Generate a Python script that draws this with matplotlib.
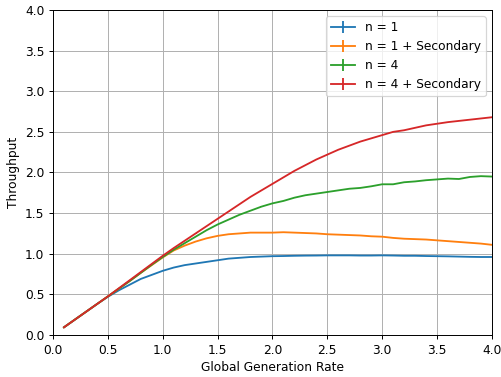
import numpy as np
import matplotlib
matplotlib.use("Agg")
import matplotlib.pyplot as plt

# generation rate sweep
rate = np.round(np.arange(1, 41) * 0.1, 1)

thr_n1 = [0.095, 0.19, 0.285, 0.38, 0.47, 0.55, 0.62, 0.69, 0.74, 0.79,
          0.83, 0.86, 0.88, 0.90, 0.92, 0.94, 0.95, 0.96, 0.965, 0.97,
          0.972, 0.975, 0.977, 0.978, 0.98, 0.98, 0.98, 0.978, 0.978, 0.98,
          0.978, 0.975, 0.975, 0.972, 0.97, 0.968, 0.965, 0.962, 0.96, 0.96]
thr_n1_sec = [0.095, 0.19, 0.285, 0.38, 0.475, 0.57, 0.665, 0.765, 0.86, 0.955,
              1.04, 1.10, 1.15, 1.19, 1.22, 1.24, 1.25, 1.26, 1.26, 1.26,
              1.265, 1.26, 1.255, 1.25, 1.24, 1.235, 1.23, 1.225, 1.215, 1.21,
              1.195, 1.185, 1.18, 1.175, 1.165, 1.155, 1.145, 1.135, 1.125, 1.11]
thr_n4 = [0.095, 0.19, 0.285, 0.38, 0.475, 0.57, 0.665, 0.765, 0.865, 0.96,
          1.05, 1.13, 1.21, 1.29, 1.36, 1.42, 1.48, 1.53, 1.58, 1.62,
          1.65, 1.69, 1.72, 1.74, 1.76, 1.78, 1.80, 1.81, 1.83, 1.855,
          1.855, 1.88, 1.89, 1.905, 1.915, 1.925, 1.92, 1.945, 1.955, 1.95]
thr_n4_sec = [0.095, 0.19, 0.285, 0.38, 0.475, 0.575, 0.675, 0.775, 0.875, 0.975,
              1.07, 1.16, 1.25, 1.34, 1.43, 1.52, 1.61, 1.70, 1.78, 1.86,
              1.94, 2.02, 2.09, 2.16, 2.22, 2.28, 2.33, 2.38, 2.42, 2.46,
              2.50, 2.52, 2.55, 2.58, 2.60, 2.62, 2.635, 2.65, 2.665, 2.68]

labels = ['n = 1', 'n = 1 + Secondary', 'n = 4', 'n = 4 + Secondary']
err = 0.002

DPI = 88
fig = plt.figure(figsize=(501 / DPI, 377 / DPI), dpi=DPI)
ax = fig.add_axes([0.1058, 0.1114, 0.876, 0.8621])

for y, lab in zip([thr_n1, thr_n1_sec, thr_n4, thr_n4_sec], labels):
    ax.errorbar(rate, y, yerr=err, label=lab)

ax.set_xlim(0, 4)
ax.set_ylim(0, 4)
ax.set_xticks(np.arange(0, 4.01, 0.5))
ax.set_yticks(np.arange(0, 4.01, 0.5))
ax.set_xlabel('Global Generation Rate')
ax.set_ylabel('Throughput')
ax.grid(True)
ax.legend(loc='upper right')

fig.savefig('out.png', dpi=DPI)
